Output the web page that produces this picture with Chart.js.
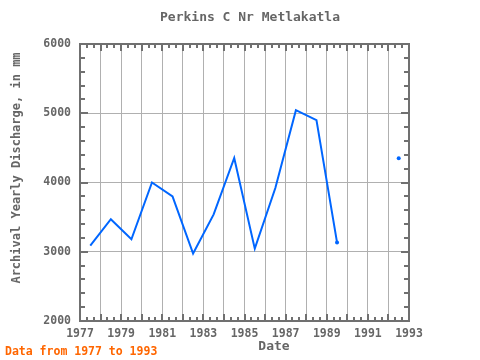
<!DOCTYPE html>
<html>
<head>
<meta charset="utf-8">
<script src="https://cdn.jsdelivr.net/npm/chart.js@4.4.1/dist/chart.umd.min.js"></script>
<style>
html,body{margin:0;padding:0;background:#fff;}
#wrap{width:480px;height:360px;position:relative;}
</style>
</head>
<body>
<div id="wrap"><canvas id="c" width="480" height="360"></canvas></div>
<script>
const chartTitle = "Perkins C Nr Metlakatla";
const yTitle = "Archival Yearly Discharge, in mm";
const xTitle = "Date";
const footText = "Data from 1977 to 1993";
const years = [1977.5, 1978.5, 1979.5, 1980.5, 1981.5, 1982.5, 1983.5, 1984.5, 1985.5, 1986.5, 1987.5, 1988.5, 1989.5, 1990.5, 1991.5, 1992.5];
const discharge = [3090, 3470, 3180, 4000, 3800, 2975, 3540, 4355, 3045, 3920, 5045, 4900, 3135, null, null, 4350];
const xTickLabels = [1977, 1979, 1981, 1983, 1985, 1987, 1989, 1991, 1993];
const yTickLabels = [2000, 3000, 4000, 5000, 6000];

const FONT = "'DejaVu Sans Mono', monospace";
const TXT = '#666666';
const AX = '#707070';

const points = years.map((x, i) => ({x: x, y: discharge[i]}));

const decor = {
  id: 'decor',
  afterDraw(chart) {
    const ctx = chart.ctx;
    const a = chart.chartArea;
    const xs = chart.scales.x, ys = chart.scales.y;
    ctx.save();
    ctx.strokeStyle = AX;
    ctx.lineWidth = 2;
    ctx.lineCap = 'butt';
    // inward ticks, x
    for (let k = 0; k <= (xs.max - xs.min) * 3; k++) {
      const v = xs.min + k / 3;
      const px = Math.round(xs.getPixelForValue(v));
      const major = k % 3 === 0;
      const len = major ? 7 : 4;
      ctx.beginPath();
      ctx.moveTo(px, a.top); ctx.lineTo(px, a.top + len);
      ctx.moveTo(px, a.bottom); ctx.lineTo(px, a.bottom - len);
      ctx.stroke();
    }
    // inward ticks, y
    for (let v = ys.min; v <= ys.max; v += 200) {
      const py = Math.round(ys.getPixelForValue(v));
      const major = v % 1000 === 0;
      const len = major ? 8 : 5;
      ctx.beginPath();
      ctx.moveTo(a.left, py); ctx.lineTo(a.left + len, py);
      ctx.moveTo(a.right, py); ctx.lineTo(a.right - len, py);
      ctx.stroke();
    }
    // frame
    ctx.strokeRect(a.left, a.top, a.right - a.left, a.bottom - a.top);
    // texts
    ctx.fillStyle = TXT;
    ctx.textAlign = 'center';
    ctx.textBaseline = 'middle';
    ctx.font = 'bold 13px ' + FONT;
    ctx.fillText(chartTitle, 250, 18);
    ctx.font = 'bold 13px ' + FONT;
    ctx.fillText(xTitle, 274, 347);
    ctx.save();
    ctx.translate(17, 168);
    ctx.rotate(-Math.PI / 2);
    ctx.font = 'bold 12px ' + FONT;
    ctx.fillText(yTitle, 0, 0);
    ctx.restore();
    ctx.textAlign = 'left';
    ctx.fillStyle = '#ff6600';
    ctx.font = 'bold 11.5px ' + FONT;
    ctx.fillText(footText, 5, 352);
    ctx.restore();
  }
};

new Chart(document.getElementById('c'), {
  type: 'line',
  data: {
    datasets: [{
      data: points,
      borderColor: '#0066ff',
      backgroundColor: '#0066ff',
      borderWidth: 2,
      tension: 0,
      spanGaps: false,
      pointRadius: (c) => {
        const i = c.dataIndex;
        const prev = i > 0 ? discharge[i - 1] : 0;
        const next = i < discharge.length - 1 ? discharge[i + 1] : 0;
        return (prev === null || next === null) ? 2 : 0;
      },
      pointBorderWidth: 0,
      pointHoverRadius: 0
    }]
  },
  options: {
    responsive: false,
    animation: false,
    devicePixelRatio: 1,
    layout: {padding: {top: 44, right: 71, left: 0, bottom: 0}},
    plugins: {legend: {display: false}, title: {display: false}, tooltip: {enabled: false}},
    scales: {
      x: {
        type: 'linear',
        min: 1977, max: 1993,
        afterFit: (s) => { s.height = 39; },
        afterBuildTicks: (s) => {
          const t = [];
          for (let y = 1977; y <= 1993; y++) t.push({value: y});
          s.ticks = t;
        },
        ticks: {
          autoSkip: false,
          maxRotation: 0,
          padding: 6,
          color: TXT,
          font: {family: FONT, size: 11.5, weight: 'bold'},
          callback: (v) => xTickLabels.includes(v) ? String(v) : ''
        },
        grid: {color: '#b0b0b0', lineWidth: 1, drawTicks: false},
        border: {display: false}
      },
      y: {
        min: 2000, max: 6000,
        afterFit: (s) => { s.width = 80; },
        afterBuildTicks: (s) => { s.ticks = yTickLabels.map(v => ({value: v})); },
        ticks: {
          padding: 9,
          color: TXT,
          font: {family: FONT, size: 11.5, weight: 'bold'},
          callback: (v) => String(v)
        },
        grid: {color: '#b0b0b0', lineWidth: 1, drawTicks: false},
        border: {display: false}
      }
    }
  },
  plugins: [decor]
});
</script>
</body>
</html>
